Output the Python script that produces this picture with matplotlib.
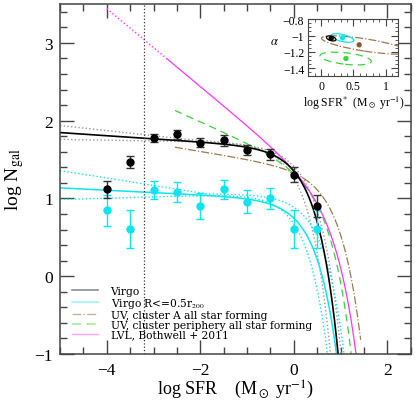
import numpy as np
import matplotlib
matplotlib.use("Agg")
import matplotlib.pyplot as plt
from matplotlib.ticker import MultipleLocator
from matplotlib.patches import Ellipse
from matplotlib.lines import Line2D

plt.rcParams['font.family'] = ['Liberation Serif', 'DejaVu Serif']
plt.rcParams['mathtext.fontset'] = 'stix'

# ---- data points (log SFR bins, log N) ----
bins = [-4.0, -3.5, -3.0, -2.5, -2.0, -1.5, -1.0, -0.5, 0.0, 0.5]
virgo_logn = [1.115, 1.467, 1.776, 1.825, 1.716, 1.745, 1.625, 1.565, 1.304, 0.905]
virgo_err = [0.11, 0.075, 0.055, 0.055, 0.06, 0.065, 0.065, 0.07, 0.095, 0.14]
inner_logn = [0.845, 0.605, 1.11, 1.08, 0.90, 1.115, 0.96, 1.00, 0.609, 0.609]
inner_err = [0.20, 0.24, 0.12, 0.13, 0.165, 0.12, 0.145, 0.14, 0.24, 0.24]

# ---- Schechter fit parameters: (alpha, log SFR*, log norm) ----
virgo_fit = (-1.04, 0.17, 1.64)
virgo_band_hi = [(-1.065, 0.10, 1.6065), (-1.04, 0.23, 1.66)]
virgo_band_lo = [(-1.01, -0.01, 1.71)]
inner_fit = (-1.03, 0.26, 0.978)
inner_band_hi = [(-1.095, 0.10, 0.874), (-1.00, 0.40, 1.06)]
inner_band_lo = [(-0.983, 0.04, 1.072)]
uvA_fit = (-1.10, 0.75, 1.33)
uvA_range = (-2.54, 1.43)
uvP_fit = (-1.27, 0.54, 1.30)
uvP_range = (-2.54, 1.6)
lvl_fit = (-1.50, 0.72, 1.08)
lvl_dotted_range = (-4.0, -2.7)
lvl_solid_range = (-2.7, 1.6)
sfr_limit = -3.2

# ---- inset: alpha vs log SFR* confidence regions (cx, cy, width, height, angle) ----
ins_virgo = (0.155, -1.035, 0.15, 0.055, -12)
ins_inner = (0.33, -1.03, 0.36, 0.085, -10)
ins_uvA = (0.68, -1.115, 1.36, 0.15, -7)
ins_uvP = (0.38, -1.28, 0.80, 0.14, -5)
ins_best_x = [0.155, 0.33, 0.59, 0.385]
ins_best_y = [-1.035, -1.028, -1.113, -1.28]

C_BLACK = 'black'
C_CYAN = '#10e4ee'
C_BROWN = '#9b7a52'
C_GREEN = '#3ad43a'
C_MAG = '#ff33ff'
C_GREY = '#9a9a9a'


def schechter(x, p):
    a, xs, A = p
    return A + (a + 1.0) * (x - xs) - 10 ** (x - xs) / np.log(10)


fig = plt.figure(figsize=(4.15, 4.02), dpi=100)
ax = fig.add_axes([0.1446, 0.1169, 0.8450, 0.8707])

x = np.linspace(-5, 2.5, 2000)

def env(params, fn):
    return fn(np.vstack([schechter(x, p) for p in params]), axis=0)

ax.plot(x, env(virgo_band_hi, np.max), ls=':', color=C_GREY, lw=1.0)
ax.plot(x, env(virgo_band_lo, np.min), ls=':', color=C_GREY, lw=1.0)
ax.plot(x, env(inner_band_hi, np.max), ls=':', color=C_CYAN, lw=1.0)
ax.plot(x, env(inner_band_lo, np.min), ls=':', color=C_CYAN, lw=1.0)

xa = np.linspace(*uvA_range, 500)
ax.plot(xa, schechter(xa, uvA_fit), ls='-.', color=C_BROWN, lw=0.9)
xp = np.linspace(*uvP_range, 500)
ax.plot(xp, schechter(xp, uvP_fit), ls=(0, (6, 4)), color=C_GREEN, lw=0.9)
xl = np.linspace(*lvl_dotted_range, 300)
ax.plot(xl, schechter(xl, lvl_fit), ls=':', color=C_MAG, lw=1.0)
xl2 = np.linspace(*lvl_solid_range, 500)
ax.plot(xl2, schechter(xl2, lvl_fit), ls='-', color=C_MAG, lw=0.9)

ax.plot(x, schechter(x, inner_fit), color=C_CYAN, lw=1.1)
ax.plot(x, schechter(x, virgo_fit), color=C_BLACK, lw=1.2)

ax.axvline(sfr_limit, color='#333333', ls=':', lw=0.9)

ax.errorbar(bins, inner_logn, yerr=inner_err, fmt='o', color=C_CYAN, ms=5,
            capsize=3, elinewidth=1.0, capthick=1.0)
ax.errorbar(bins, virgo_logn, yerr=virgo_err, fmt='o', color='black', ms=5,
            ecolor='#333333', capsize=3, elinewidth=1.0, capthick=1.0)

ax.set_xlim(-5, 2.5)
ax.set_ylim(-1, 3.5)
ax.xaxis.set_major_locator(MultipleLocator(2))
ax.xaxis.set_minor_locator(MultipleLocator(0.5))
ax.yaxis.set_major_locator(MultipleLocator(1))
ax.yaxis.set_minor_locator(MultipleLocator(0.2))
ax.tick_params(which='both', direction='in', top=True, right=True, color='#444444')
ax.tick_params(which='major', length=10, width=1.0, labelsize=12.5)
ax.tick_params(axis='x', which='major', pad=6)
ax.tick_params(axis='y', which='major', pad=5)
ax.tick_params(which='minor', length=5, width=1.0)
for s in ax.spines.values():
    s.set_color('#444444')
    s.set_linewidth(1.1)
ax.set_xlabel(r'log SFR    (M$_\odot$ yr$^{-1}$)', fontsize=13, va='top')
ax.xaxis.set_label_coords(0.5, -0.068)
ax.set_ylabel(r'log N$_{\rm gal}$', fontsize=14, labelpad=6)

labels = ['Virgo', r'Virgo R<=0.5r$_{200}$', 'UV, cluster A all star forming',
          'UV, cluster periphery all star forming', 'LVL, Bothwell + 2011']
handles = [Line2D([], [], color='black', lw=1.2, alpha=0.45),
           Line2D([], [], color=C_CYAN, lw=1.1, alpha=0.45),
           Line2D([], [], color=C_BROWN, lw=1.0, ls='-.', alpha=0.6),
           Line2D([], [], color=C_GREEN, lw=1.3, ls=(0, (5, 3)), alpha=0.45),
           Line2D([], [], color=C_MAG, lw=1.0, alpha=0.45)]
leg = ax.legend(handles, labels, loc='lower left', bbox_to_anchor=(0.013, 0.02),
                frameon=False, prop={'family': 'DejaVu Serif', 'size': 7.7},
                handlelength=2.4, handletextpad=1.2,
                labelspacing=0.0, borderpad=0.2)

# ---- inset ----
ins = fig.add_axes([0.743, 0.809, 0.217, 0.141])
for (cx, cy, w, h, ang), col, ls in [(ins_uvA, C_BROWN, '-.'), (ins_uvP, C_GREEN, (0, (6, 4))),
                                    (ins_inner, C_CYAN, '-'), (ins_virgo, 'black', '-')]:
    ins.add_patch(Ellipse((cx, cy), w, h, angle=ang, fill=False, ec=col, ls=ls, lw=0.9))
ins.scatter(ins_best_x, ins_best_y, s=8, c=['black', C_CYAN, '#8b5a2b', C_GREEN], zorder=5)
ins.set_xlim(-0.2, 1.2)
ins.set_ylim(-1.49, -0.8)
ins.xaxis.set_minor_locator(MultipleLocator(0.1))
ins.yaxis.set_minor_locator(MultipleLocator(0.05))
ins.set_yticks([-0.8, -1.0, -1.2, -1.4])
ins.set_yticklabels(['\u22120.8', '\u22121', '\u22121.2', '\u22121.4'])
ins.set_xticks([0, 0.5, 1])
ins.set_xticklabels(['0', '0.5', '1'])
ins.tick_params(which='both', direction='in', top=True, right=True, color='#444444', labelsize=8.5)
ins.tick_params(which='major', length=5, pad=3)
ins.tick_params(which='minor', length=2.5)
for s in ins.spines.values():
    s.set_color('#444444')
ins.set_xlabel(r'log SFR$^{*}$  (M$_\odot$ yr$^{-1}$)', fontsize=8.5, labelpad=1)
ins.set_ylabel(r'$\alpha$', fontsize=9, rotation=0, labelpad=6)

fig.savefig('out.png', dpi=100)
